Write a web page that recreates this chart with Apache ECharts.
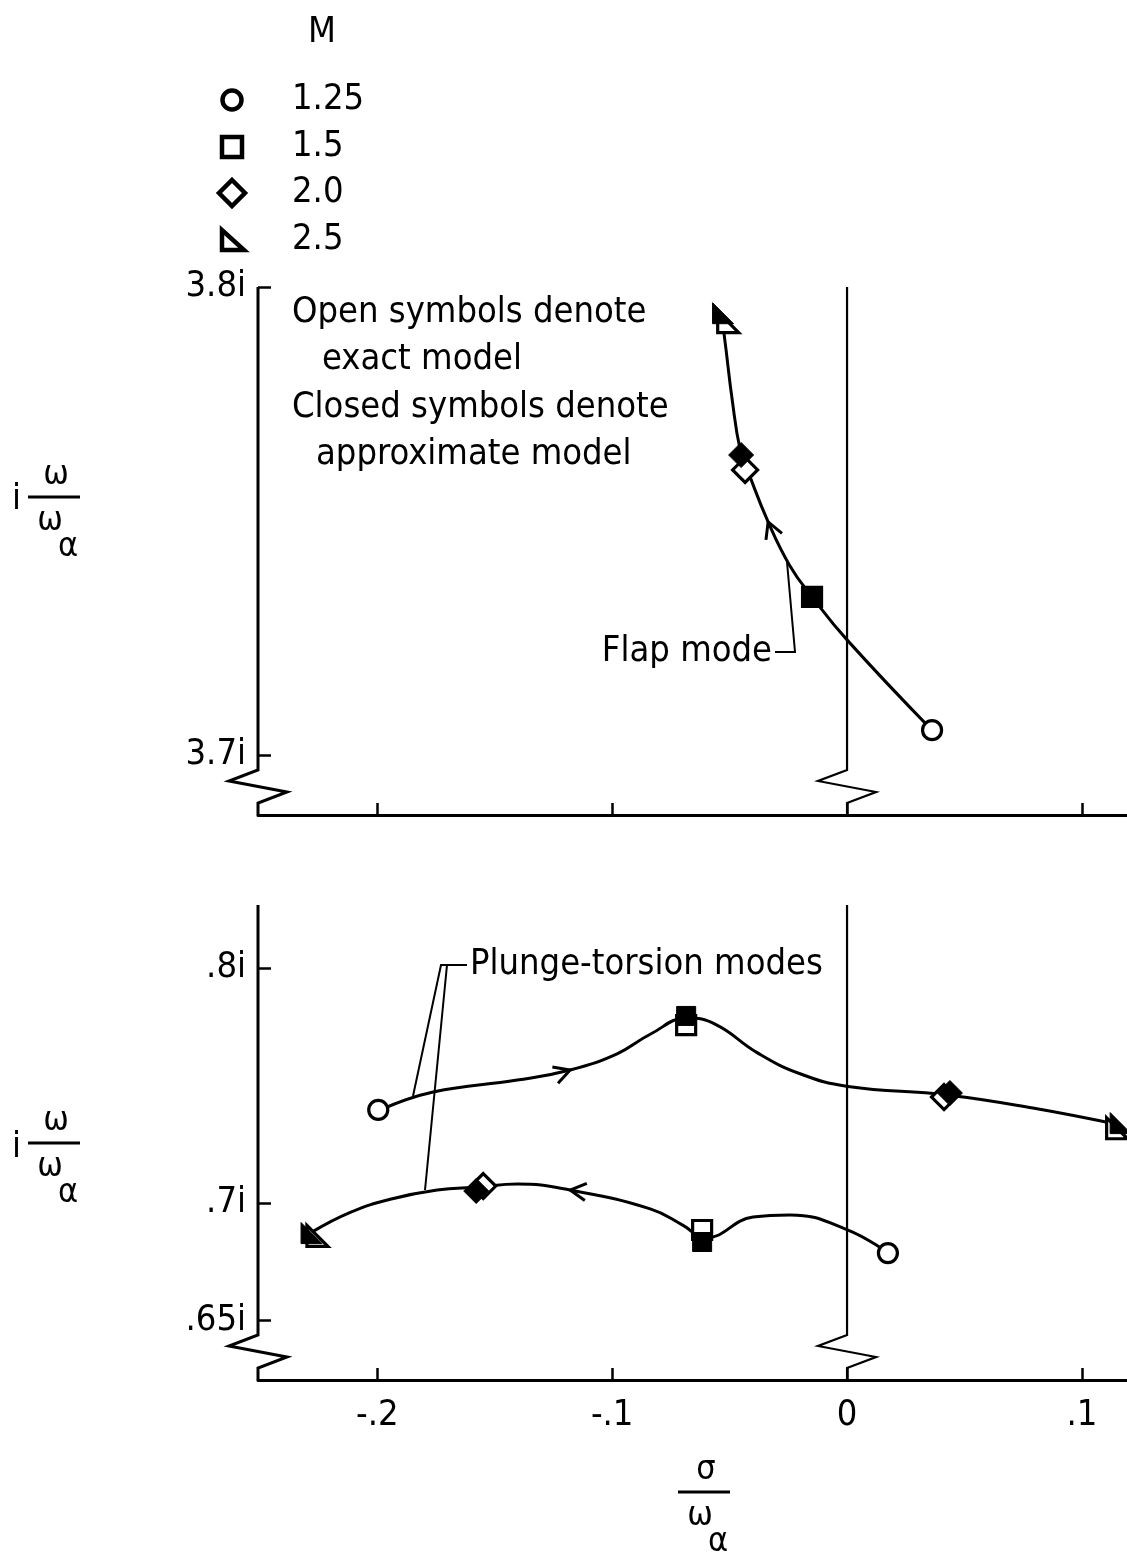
<!DOCTYPE html>
<html><head><meta charset="utf-8">
<script src="https://cdn.jsdelivr.net/npm/echarts@6.0.0/dist/echarts.min.js"></script>
<style>html,body{margin:0;padding:0;background:#fff}#c{width:1127px;height:1552px}</style>
</head><body><div id="c"></div>
<script>
// ---------- data ----------
const machLabels = ['1.25', '1.5', '2.0', '2.5'];
const xTicks = [-0.2, -0.1, 0, 0.1];
const xTickLabels = ['-.2', '-.1', '0', '.1'];
const yTopTicks = [3.7, 3.8];
const yTopTickLabels = ['3.7i', '3.8i'];
const yBotTicks = [0.65, 0.7, 0.8];
const yBotTickLabels = ['.65i', '.7i', '.8i'];

// markers per Mach number (index matches machLabels); null = not shown
const flapExact   = [[0.0362, 3.7053], [-0.0149, 3.7338], [-0.0434, 3.7609], [-0.0506, 3.7925]];
const flapApprox  = [null, [-0.0149, 3.7338], [-0.0451, 3.7641], [-0.0528, 3.7944]];
const upperExact  = [[-0.1996, 0.7396], [-0.0685, 0.7757], [0.0413, 0.7451], [0.1150, 0.7318]];
const upperApprox = [null, [-0.0685, 0.7796], [0.0438, 0.7468], [0.1165, 0.7340]];
const lowerExact  = [[0.0174, 0.6787], [-0.0617, 0.6885], [-0.1549, 0.7072], [-0.2255, 0.6860]];
const lowerApprox = [null, [-0.0617, 0.6834], [-0.1579, 0.7051], [-0.2280, 0.6872]];

// faired curves
const flapCurve = [[0.0362, 3.7053], [0.0000, 3.7246], [-0.0149, 3.7338], [-0.0243, 3.7404], [-0.0336, 3.7498],
  [-0.0421, 3.7605], [-0.0455, 3.7652], [-0.0489, 3.7759], [-0.0515, 3.7865], [-0.0532, 3.7934]];
const upperCurve = [[-0.1987, 0.7396], [-0.1762, 0.7472], [-0.1404, 0.7523], [-0.1179, 0.7566], [-0.0979, 0.7635],
  [-0.0838, 0.7718], [-0.0681, 0.7787], [-0.0560, 0.7760], [-0.0383, 0.7640], [-0.0200, 0.7550], [0.0004, 0.7496],
  [0.0426, 0.7460], [0.0791, 0.7404], [0.1162, 0.7332]];
const lowerCurve = [[0.0174, 0.6787], [0.0004, 0.6885], [-0.0243, 0.6949], [-0.0400, 0.6940], [-0.0604, 0.6851],
  [-0.0698, 0.6905], [-0.0838, 0.6975], [-0.1179, 0.7055], [-0.1404, 0.7081], [-0.1570, 0.7068], [-0.1745, 0.7055],
  [-0.1945, 0.7016], [-0.2115, 0.6960], [-0.2277, 0.6877]];

// ---------- styling ----------
const FONT = '"DejaVu Sans Condensed","DejaVu Sans",sans-serif';
const GFONT = '"DejaVu Sans Condensed","DejaVu Sans",sans-serif';
const FS = 36;
const symbols = ['circle', 'rect', 'diamond', 'path://M0,0L0,10L10,10Z'];
const symSizes = [19, 19, 25, 21];

function lbl(ticks, labels) {
  return v => { const i = ticks.findIndex(t => Math.abs(t - v) < 1e-9); return i < 0 ? '' : labels[i]; };
}

const series = [];
function markers(pts, gi, k, filled) {
  const data = pts.filter(Boolean);
  if (!data.length) return;
  series.push({
    type: 'scatter', name: machLabels[k] + (filled ? ' approx' : ' exact'),
    xAxisIndex: gi, yAxisIndex: gi, symbol: symbols[k], symbolSize: symSizes[k], data,
    itemStyle: filled ? { color: '#000', borderColor: '#000', borderWidth: 1, opacity: 1 }
                      : { color: '#fff', borderColor: '#000', borderWidth: 3.2, opacity: 1 },
    z: filled ? 5 : 4, silent: true
  });
}
for (let k = 0; k < 4; k++) {
  markers([flapExact[k]], 0, k, false);
  markers([upperExact[k], lowerExact[k]], 1, k, false);
}
for (let k = 0; k < 4; k++) {
  markers([flapApprox[k]], 0, k, true);
  markers([upperApprox[k], lowerApprox[k]], 1, k, true);
}
function curve(data, gi) {
  series.push({ type: 'line', xAxisIndex: gi, yAxisIndex: gi, data, smooth: 0.45, symbol: 'none',
    lineStyle: { color: '#000', width: 3 }, z: 3, silent: true });
}
curve(flapCurve, 0); curve(upperCurve, 1); curve(lowerCurve, 1);

const X_MIN = -0.2508, X_MAX = 0.1192;
function xAxis(gi, showLabels) {
  return {
    gridIndex: gi, type: 'value', min: X_MIN, max: X_MAX,
    axisLine: { show: true, onZero: false, lineStyle: { color: '#000', width: 3 } },
    axisTick: { show: true, inside: true, length: 12, customValues: xTicks, lineStyle: { color: '#000', width: 2.5 } },
    axisLabel: { show: showLabels, customValues: xTicks, formatter: lbl(xTicks, xTickLabels),
      color: '#000', fontFamily: FONT, fontSize: FS, margin: 18 },
    splitLine: { show: false }
  };
}
function yAxis(gi, min, max, ticks, labels) {
  return {
    gridIndex: gi, type: 'value', min, max, position: 'left',
    axisLine: { show: false, onZero: false },
    axisTick: { show: true, inside: true, length: 13, customValues: ticks, lineStyle: { color: '#000', width: 2.5 } },
    axisLabel: { show: true, customValues: ticks, formatter: lbl(ticks, labels), color: '#000',
      fontFamily: FONT, fontSize: FS, margin: 12 },
    splitLine: { show: false }
  };
}

const option = {
  backgroundColor: '#fff',
  animation: false,
  grid: [
    { left: 258, right: 0, top: 287, height: 528 },
    { left: 258, right: 0, top: 905, height: 475 }
  ],
  xAxis: [xAxis(0, false), xAxis(1, true)],
  yAxis: [yAxis(0, 3.68718, 3.8, yTopTicks, yTopTickLabels), yAxis(1, 0.62468, 0.82681, yBotTicks, yBotTickLabels)],
  series
};

const chart = echarts.init(document.getElementById('c'));
chart.setOption(option);

// ---------- decorations (axis breaks, annotations, titles, legend) ----------
const px = (gi, p) => chart.convertToPixel({ gridIndex: gi }, p);
const G = [];
const S = (w) => ({ stroke: '#000', lineWidth: w, fill: null, lineJoin: 'miter' });
function poly(points, w) { G.push({ type: 'polyline', shape: { points }, style: S(w), z: 20, silent: true }); }
function txt(x, y, text, size, align, font) {
  G.push({ type: 'text', x, y, z: 20, silent: true,
    style: { text, fill: '#000', font: size + 'px ' + (font || FONT), align: align || 'left', verticalAlign: 'middle' } });
}
function brokenLine(gi, xv, ymin, ymax, w) {
  const top = px(gi, [xv, ymax]), bot = px(gi, [xv, ymin]);
  const x = top[0];
  poly([[x, top[1]], [x, bot[1] - 45], [x - 29, bot[1] - 34], [x + 29, bot[1] - 23], [x, bot[1] - 12], [x, bot[1]]], w);
}
brokenLine(0, X_MIN, 3.68718, 3.8, 3);
brokenLine(1, X_MIN, 0.62468, 0.82681, 3);
brokenLine(0, 0, 3.68718, 3.8, 2.2);
brokenLine(1, 0, 0.62468, 0.82681, 2.2);

// direction arrows on curves
function arrow(gi, c, i) {
  const a = px(gi, c[i]), b = px(gi, c[i + 1]);
  let dx = b[0] - a[0], dy = b[1] - a[1]; const L = Math.hypot(dx, dy); dx /= L; dy /= L;
  const len = 18, ang = 0.5;
  const arm = s => [a[0] - len * (dx * Math.cos(ang) - s * dy * Math.sin(ang)), a[1] - len * (dy * Math.cos(ang) + s * dx * Math.sin(ang))];
  poly([arm(1), a, arm(-1)], 3);
}
arrow(0, flapCurve, 4);
arrow(1, upperCurve, 3);
arrow(1, lowerCurve, 7);

// annotations
txt(772, 652, 'Flap mode', FS, 'right');
poly([[775, 652], [795, 652], [787, 562]], 2);
txt(470, 965, 'Plunge-torsion modes', FS);
poly([[467, 965], [441, 965], [413, 1096]], 2);
poly([[447, 965], [425, 1190]], 2);
txt(292, 313, 'Open symbols denote', FS);
txt(322, 360, 'exact model', FS);
txt(292, 408, 'Closed symbols denote', FS);
txt(316, 455, 'approximate model', FS);

// legend
txt(322, 33, 'M', FS, 'center');
const LS = { fill: '#fff', stroke: '#000', lineWidth: 4.5 };
G.push({ type: 'circle', shape: { cx: 232, cy: 100, r: 9.5 }, style: LS, z: 20 });
G.push({ type: 'rect', shape: { x: 222, y: 137, width: 20, height: 20 }, style: LS, z: 20 });
G.push({ type: 'polygon', shape: { points: [[232, 180], [245, 193], [232, 206], [219, 193]] }, style: LS, z: 20 });
G.push({ type: 'polygon', shape: { points: [[222, 230], [222, 250], [244, 250]] }, style: LS, z: 20 });
machLabels.forEach((m, i) => txt(292, [100, 147, 193, 240][i], m, FS));

// axis titles
function fracTitle(cx, cy, num) {
  G.push({ type: 'line', shape: { x1: cx - 26, y1: cy, x2: cx + 26, y2: cy }, style: { stroke: '#000', lineWidth: 3 }, z: 20 });
  txt(cx + 2, cy - 22, num, 34, 'center', GFONT);
  txt(cx - 4, cy + 24, 'ω', 34, 'center', GFONT);
  txt(cx + 14, cy + 50, 'α', 34, 'center', GFONT);
}
txt(12, 500, 'i', 36, 'left', GFONT);
fracTitle(54, 497, 'ω');
txt(12, 1148, 'i', 36, 'left', GFONT);
fracTitle(54, 1143, 'ω');
fracTitle(704, 1492, 'σ');

chart.setOption({ graphic: G });
</script></body></html>
